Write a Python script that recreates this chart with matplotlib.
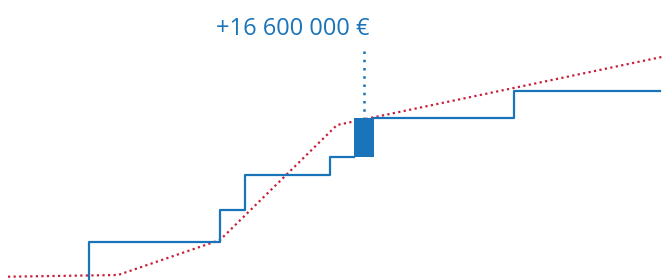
import matplotlib
matplotlib.use('Agg')
import matplotlib.pyplot as plt

BLUE = "#1a74b9"
RED = "#c8203c"

# ── Data (horizontal position, level) ──
step_x = [89, 89, 220, 245, 329.5, 353.5]
step_y = [-5, 38, 70.5, 105, 123, 123]
step2_x = [373.5, 514, 660]
step2_y = [162, 189, 189]

trend_x = [8, 118, 220, 337, 664]
trend_y = [3.3, 5, 40, 155, 223.5]

jump_x = 363.5
jump_bottom = 123
jump_top = 162
jump_width = 20
label_y = 229
label = "+16 600 000 €"

fig = plt.figure(figsize=(6.62, 2.8), dpi=100)
ax = fig.add_axes([0, 0, 1, 1])
ax.set_xlim(0, 662)
ax.set_ylim(0, 280)
ax.axis("off")

ax.plot(trend_x, trend_y, color=RED, lw=1.6,
        linestyle=(0, (1, 1.5)), zorder=2)
ax.plot(step_x, step_y, drawstyle="steps-post", color=BLUE, lw=1.6, zorder=3)
ax.plot(step2_x, step2_y, drawstyle="steps-post", color=BLUE, lw=1.6, zorder=3)
ax.bar(jump_x, jump_top - jump_bottom, bottom=jump_bottom,
       width=jump_width, color=BLUE, zorder=4)
ax.plot([jump_x, jump_x], [label_y, jump_top], color=BLUE, lw=1.8,
        linestyle=(0, (1, 2.3)), zorder=4)
ax.text(293, 245, label, ha="center", va="baseline", color=BLUE,
        fontsize=17, family="Open Sans")

plt.savefig("out.png", dpi=100)
plt.close()
